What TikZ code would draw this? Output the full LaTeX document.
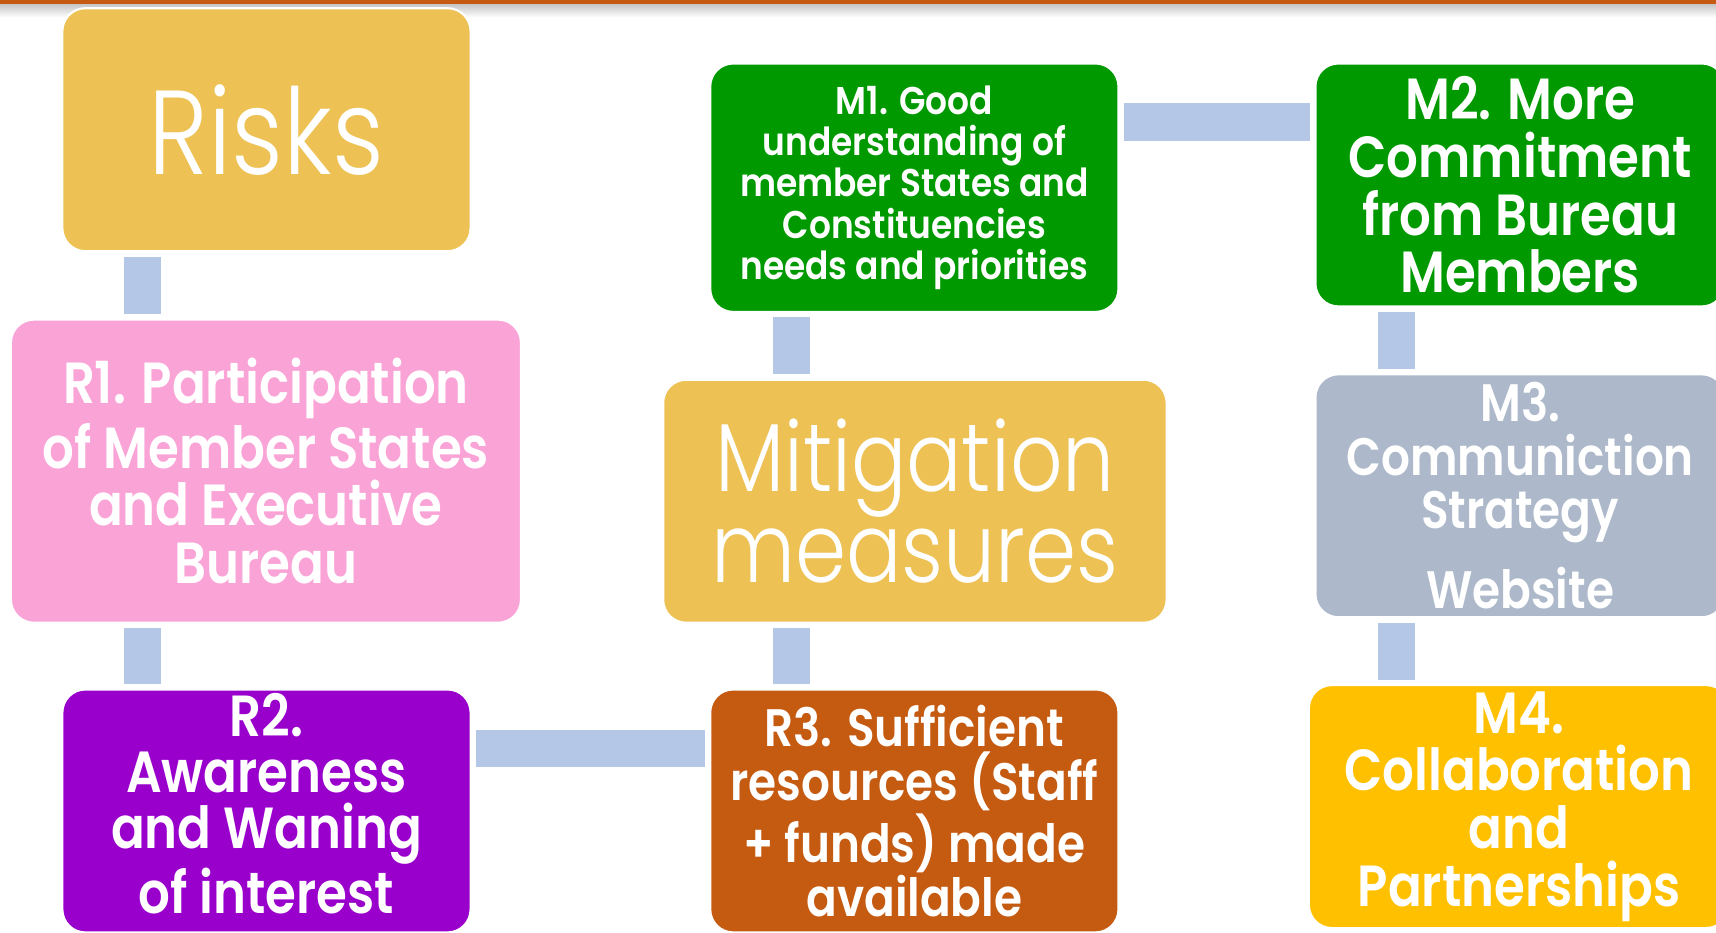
\documentclass[tikz,border=0pt]{standalone}
\usepackage{fontspec}
\usepackage{xcolor}
\usepackage{tikz}
\usetikzlibrary{positioning,calc}
\newfontfamily\boxfont{Poppins}[UprightFont=* SemiBold, FakeStretch=0.86]
\newfontfamily\smallboxfont{Poppins}[UprightFont=* SemiBold, FakeStretch=0.89]
\newfontfamily\thinfont{Poppins}[UprightFont=* Light, FakeStretch=0.85]
\definecolor{linkblue}{RGB}{180,199,231}
\definecolor{riskgold}{RGB}{237,193,83}
\definecolor{rpink}{RGB}{250,163,214}
\definecolor{rpurple}{RGB}{153,0,204}
\definecolor{rorange}{RGB}{197,90,17}
\definecolor{mgreen}{RGB}{0,153,0}
\definecolor{mgrey}{RGB}{173,185,202}
\definecolor{myellow}{RGB}{255,192,0}
\newlength\pxu \setlength\pxu{0.10944mm}
\tikzset{
  card/.style={draw=white, line width=0.6pt, rounded corners=21*\pxu, inner sep=0pt,
    text=white, align=center, minimum width=373*\pxu, minimum height=222*\pxu},
  bigbold/.style={font=\boxfont\fontsize{16.5}{16.4}\selectfont},
  midbold/.style={font=\boxfont\fontsize{15}{15.2}\selectfont},
  link/.style={draw=linkblue, line width=34*\pxu, shorten <=4*\pxu, shorten >=4*\pxu},
}
\begin{document}
\begin{tikzpicture}[x=\pxu,y=-\pxu]
\useasboundingbox (0,0) rectangle (1568,852);
\clip (0,0) rectangle (1568,852);
%%% top rule
\fill[rorange] (0,0) rectangle (1568,4);
\shade[top color=black!22, bottom color=white] (0,4) rectangle (1568,16);
%%% risks column
\node[card, fill=riskgold, font=\thinfont\fontsize{34}{34}\selectfont] (risks) at (243.5,118.5) {Risks};
\node[card, bigbold, fill=rpink, minimum width=466*\pxu, minimum height=277*\pxu] (r1) at (243,430.5)
  {R1. Participation\\of Member States\\and Executive\\Bureau};
\node[card, font=\boxfont\fontsize{16.5}{16}\selectfont, fill=rpurple] (r2) at (243.5,741)
  {R2.\\Awareness\\and Waning\\of interest\vphantom{Ag}};
\node[card, midbold, fill=rorange] (r3) at (835.5,741) {R3. Sufficient\\resources (Staff\\+ funds) made\\available};
%%% mitigation column
\node[card, fill=riskgold, minimum width=460*\pxu, font=\thinfont\fontsize{27.5}{25.8}\selectfont] (mit) at (836,458)
  {Mitigation\\measures};
\node[card, fill=mgreen, minimum height=227*\pxu, font=\smallboxfont\fontsize{11}{11.7}\selectfont] (m1) at (835.5,171.5)
  {M1. Good\\understanding of\\member States and\\Constituencies\\needs and priorities};
%% right column, cut by the page edge
\node[card, bigbold, fill=mgreen, minimum width=374*\pxu] (m2) at (1389,169) {M2. More\\Commitment\\from Bureau\\Members};
\node[card, midbold, fill=mgrey, minimum width=374*\pxu] (m3) at (1389,453) {M3.\\Communiction\\Strategy\\[6pt]Website};
\node[card, bigbold, fill=myellow, minimum width=384*\pxu] (m4) at (1388,737) {M4.\\Collaboration\\and\\Partnerships};
%%% links
\coordinate (laneA) at (130.5,0);
\coordinate (laneB) at (723,0);
\coordinate (laneC) at (1276,0);
\coordinate (rowA) at (0,111.5);
\coordinate (rowB) at (0,684);
\draw[link] (risks.south -| laneA) -- (r1.north -| laneA);
\draw[link] (r1.south -| laneA) -- (r2.north -| laneA);
\draw[link] (r2.east |- rowB) -- (r3.west |- rowB);
\draw[link] (r3.north -| laneB) -- (mit.south -| laneB);
\draw[link] (mit.north -| laneB) -- (m1.south -| laneB);
\draw[link] (m1.east |- rowA) -- (m2.west |- rowA);
\draw[link] (m2.south -| laneC) -- (m3.north -| laneC);
\draw[link] (m3.south -| laneC) -- (m4.north -| laneC);
\end{tikzpicture}
\end{document}
